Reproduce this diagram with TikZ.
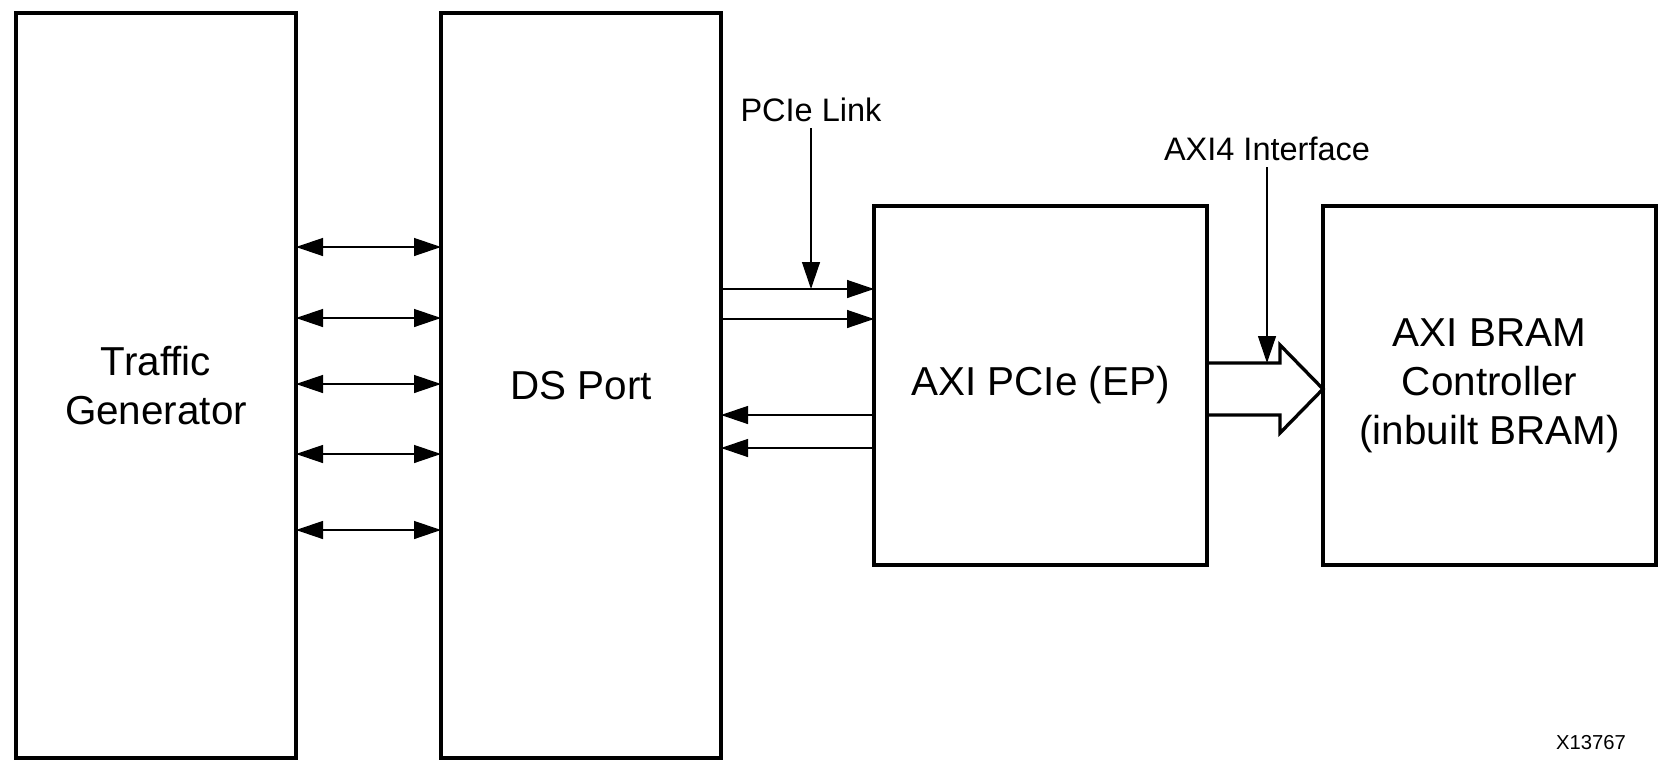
\documentclass[tikz,border=0pt]{standalone}
\usepackage{fontspec}
\setmainfont{Liberation Sans}
\usetikzlibrary{arrows.meta,positioning,calc}

\begin{document}
\begin{tikzpicture}[
    block/.style={rectangle, draw, line width=1.9pt, outer sep=0pt, align=center, minimum width=5.6cm, minimum height=14.9cm, font=\fontsize{23}{28}\selectfont},
    tagtext/.style={font=\fontsize{18.5}{22}\selectfont},
    sigline/.style={line width=0.75pt, -{Triangle[length=0.54cm, width=0.36cm]}},
    duplex/.style={line width=0.75pt, {Triangle[length=0.54cm, width=0.36cm]}-{Triangle[length=0.54cm, width=0.36cm]}},
    fatarrow/.style={line width=1.9pt, line join=miter}]

    \useasboundingbox (-3.12,-7.75) rectangle (30.28,7.71);

    % Traffic generator and downstream port
    \node[block] (tg) at (0,0) {Traffic\\Generator};
    \node[block, right=2.9cm of tg] (ds) {DS Port};

    % Endpoint and BRAM controller
    \node[block, right=3.06cm of ds, minimum width=6.66cm, minimum height=7.18cm] (ep) {AXI PCIe (EP)};
    \node[block, right=2.32cm of ep, minimum width=6.66cm, minimum height=7.18cm] (bram) {AXI BRAM\\Controller\\(inbuilt BRAM)};

    % Labels
    \node[tagtext] (pcielink) at (13.1,5.51) {PCIe Link};
    \node[tagtext] (axiif) at (22.22,4.73) {AXI4 Interface};
    \node[font=\fontsize{11.5}{13}\selectfont] (fig) at (28.7,-7.15) {X13767};

    % TG <-> DS
    \draw[duplex] ([yshift=2.77cm]tg.east) -- ([yshift=2.77cm]ds.west);
    \draw[duplex] ([yshift=1.35cm]tg.east) -- ([yshift=1.35cm]ds.west);
    \draw[duplex] ([yshift=0.03cm]tg.east) -- ([yshift=0.03cm]ds.west);
    \draw[duplex] ([yshift=-1.37cm]tg.east) -- ([yshift=-1.37cm]ds.west);
    \draw[duplex] ([yshift=-2.89cm]tg.east) -- ([yshift=-2.89cm]ds.west);

    % PCIe link
    \coordinate (fwdtop) at ([yshift=1.93cm]ds.east);
    \draw[sigline] (fwdtop) -- ([yshift=1.93cm]ep.west);
    \draw[sigline] ([yshift=1.33cm]ds.east) -- ([yshift=1.33cm]ep.west);
    \draw[sigline] ([yshift=-0.59cm]ep.west) -- ([yshift=-0.59cm]ds.east);
    \draw[sigline] ([yshift=-1.25cm]ep.west) -- ([yshift=-1.25cm]ds.east);
    \draw[sigline] (pcielink) -- (pcielink |- fwdtop);

    % AXI4 interface
    \coordinate (bodytop) at ([yshift=0.45cm]ep.east);
    \draw[fatarrow] (bodytop) -| ([xshift=-0.86cm, yshift=0.81cm]bram.west) -- ([yshift=-0.07cm]bram.west) -- ([xshift=-0.86cm, yshift=-0.95cm]bram.west) |- ([yshift=-0.59cm]ep.east);
    \draw[sigline] (axiif) -- (axiif |- bodytop);

\end{tikzpicture}
\end{document}
